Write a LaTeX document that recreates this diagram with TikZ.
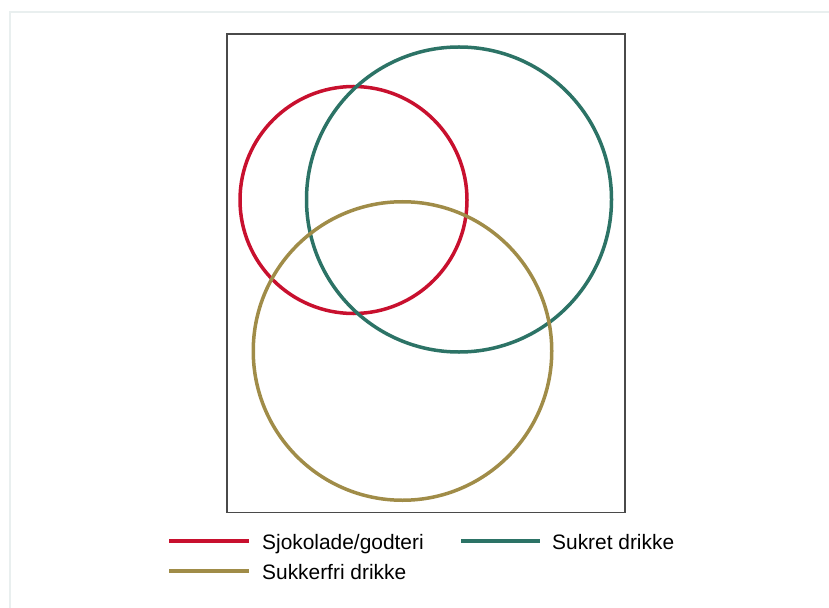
\documentclass[tikz,border=0pt]{standalone}
\usepackage{fontspec}
\setmainfont{Liberation Sans}
\usetikzlibrary{positioning}
\definecolor{sjokrod}{HTML}{C8102E}
\definecolor{sukretgronn}{HTML}{2C7366}
\definecolor{sukkerfrigull}{HTML}{A08C48}
\definecolor{rammegraa}{HTML}{4A4A4A}
\definecolor{ytregraa}{HTML}{E9EFEF}
\tikzset{x=1bp, y=-1bp, mengde/.style={circle, draw, line width=3.5bp, inner sep=0pt},
    forklaring/.style={anchor=base west, inner sep=0pt, font=\fontsize{20.9bp}{24bp}\selectfont},
    strek/.style={line width=3.5bp}}

\begin{document}
\begin{tikzpicture}
        \useasboundingbox (0,0) rectangle (829,608);
        \draw[ytregraa, line width=2bp] (10,608) -- (10,12) -- (829,12);
        \draw[rammegraa, line width=1.2bp] (227,34) rectangle (625,512.5);
        \node[mengde, sjokrod, minimum size=227bp] (sjokolade) at (353.5,200) {};
        \node[mengde, sukretgronn, minimum size=305bp] (sukret) at (459,199.5) {};
        \node[mengde, sukkerfrigull, minimum size=298.5bp] (sukkerfri) at (402.5,351) {};
        \coordinate (r1) at (169,541);
        \coordinate (r2) at (249,541);
        \coordinate (g1) at (461,541);
        \coordinate (g2) at (540,541);
        \coordinate (s1) at (169,571);
        \coordinate (s2) at (249,571);
        \draw[strek, sjokrod] (r1) -- (r2);
        \draw[strek, sukretgronn] (g1) -- (g2);
        \draw[strek, sukkerfrigull] (s1) -- (s2);
        \node[forklaring] (tsjokolade) at (262,549.5) {Sjokolade/godteri};
        \node[forklaring] (tsukret) at (552,549.5) {Sukret drikke};
        \node[forklaring] (tsukkerfri) at (262,579) {Sukkerfri drikke};
    \end{tikzpicture}
\end{document}
